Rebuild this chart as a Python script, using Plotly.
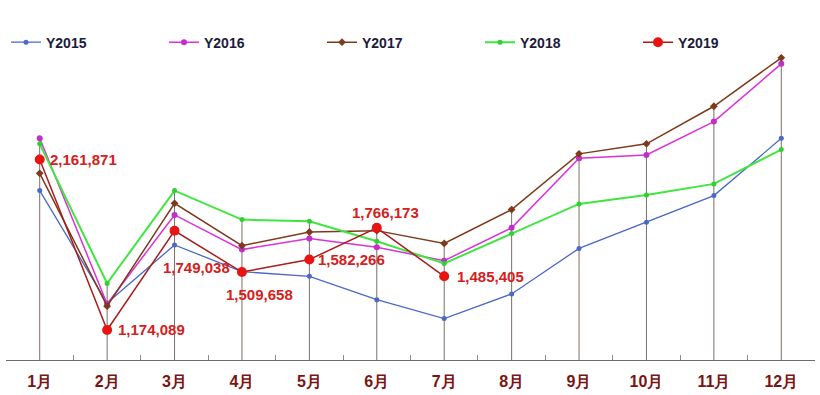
import plotly.graph_objects as go

months = ["1月", "2月", "3月", "4月", "5月", "6月", "7月", "8月", "9月", "10月", "11月", "12月"]

y2015 = [1982000, 1330000, 1667000, 1512000, 1485000, 1350000, 1240000, 1383000, 1647000, 1798000, 1953000, 2285000]
y2016 = [2285000, 1325000, 1841000, 1640000, 1705000, 1653000, 1576000, 1766000, 2169000, 2189000, 2382000, 2717000]
y2017 = [2082000, 1312000, 1908000, 1663000, 1742000, 1750000, 1676000, 1872000, 2195000, 2253000, 2471000, 2752000]
y2018 = [2253000, 1444000, 1982000, 1814000, 1804000, 1688000, 1560000, 1734000, 1905000, 1957000, 2021000, 2220000]
y2019 = [2161871, 1174089, 1749038, 1509658, 1582266, 1766173, 1485405]
y2019_labels = ["2,161,871", "1,174,089", "1,749,038", "1,509,658", "1,582,266", "1,766,173", "1,485,405"]

Y_MIN = 1000000
Y_MAX = 3000000

fig = go.Figure()

# drop lines from the highest point in each month down to the axis
all_series = [y2015, y2016, y2017, y2018, y2019]
dx, dy = [], []
for i, m in enumerate(months):
    top = max(s[i] for s in all_series if i < len(s))
    dx += [m, m, None]
    dy += [top, Y_MIN, None]
fig.add_trace(go.Scatter(x=dx, y=dy, mode="lines", line=dict(color="#7a6e68", width=1),
                         showlegend=False, hoverinfo="skip"))

series = [
    ("Y2015", y2015, "#4a68c8", 1.3, "circle", 5, "#4a68c8"),
    ("Y2016", y2016, "#dd30dd", 1.5, "circle", 6, "#c030c8"),
    ("Y2017", y2017, "#7f3a1c", 1.5, "diamond", 6, "#7f3a1c"),
    ("Y2018", y2018, "#3fe63f", 2.0, "circle", 5, "#30d030"),
    ("Y2019", y2019, "#a81c1c", 1.5, "circle", 10, "#e81414"),
]
for name, vals, lc, lw, sym, ms, mc in series:
    fig.add_trace(go.Scatter(
        x=months[:len(vals)], y=vals, mode="lines+markers", name=name,
        line=dict(color=lc, width=lw),
        marker=dict(symbol=sym, size=ms, color=mc, line=dict(width=0)),
    ))

# Y2019 data labels
offsets = [
    ("left", 8, 0),
    ("left", 9, 0),
    ("left", -14, -37),
    ("left", -18, -22),
    ("left", 7, 0),
    ("center", 9, 15),
    ("left", 11, 0),
]
for i, (lab, (xa, xs, ys)) in enumerate(zip(y2019_labels, offsets)):
    fig.add_annotation(x=months[i], y=y2019[i], text=lab, showarrow=False,
                       xanchor=xa, yanchor="middle", xshift=xs, yshift=ys,
                       font=dict(family="Liberation Sans, Arial", size=15, color="#d42020", weight="bold"))

fig.update_layout(
    width=820, height=395,
    margin=dict(l=6, r=5, t=15, b=32),
    paper_bgcolor="white", plot_bgcolor="white",
    font=dict(family="Liberation Sans, Arial"),
    showlegend=True,
    legend=dict(orientation="h", x=0.0, xanchor="left", y=0.92, yanchor="middle",
                entrywidth=113, entrywidthmode="pixels", itemwidth=30,
                font=dict(size=14, color="#1c1c3c", weight="bold"),
                bgcolor="rgba(0,0,0,0)", tracegroupgap=0),
    xaxis=dict(type="category", range=[-0.5, 11.5], showgrid=False, zeroline=False,
               showline=True, linecolor="#6a6a6a", linewidth=1,
               ticks="inside", ticklen=5, tickcolor="#8a8a8a", tickson="boundaries",
               ticklabelstandoff=7,
               tickfont=dict(size=16, color="#7a1414", weight="bold")),
    yaxis=dict(range=[Y_MIN, Y_MAX], visible=False, showgrid=False, zeroline=False),
)

fig.write_html("out.html", config={"displayModeBar": False},
               post_script="document.body.style.margin='0';")
